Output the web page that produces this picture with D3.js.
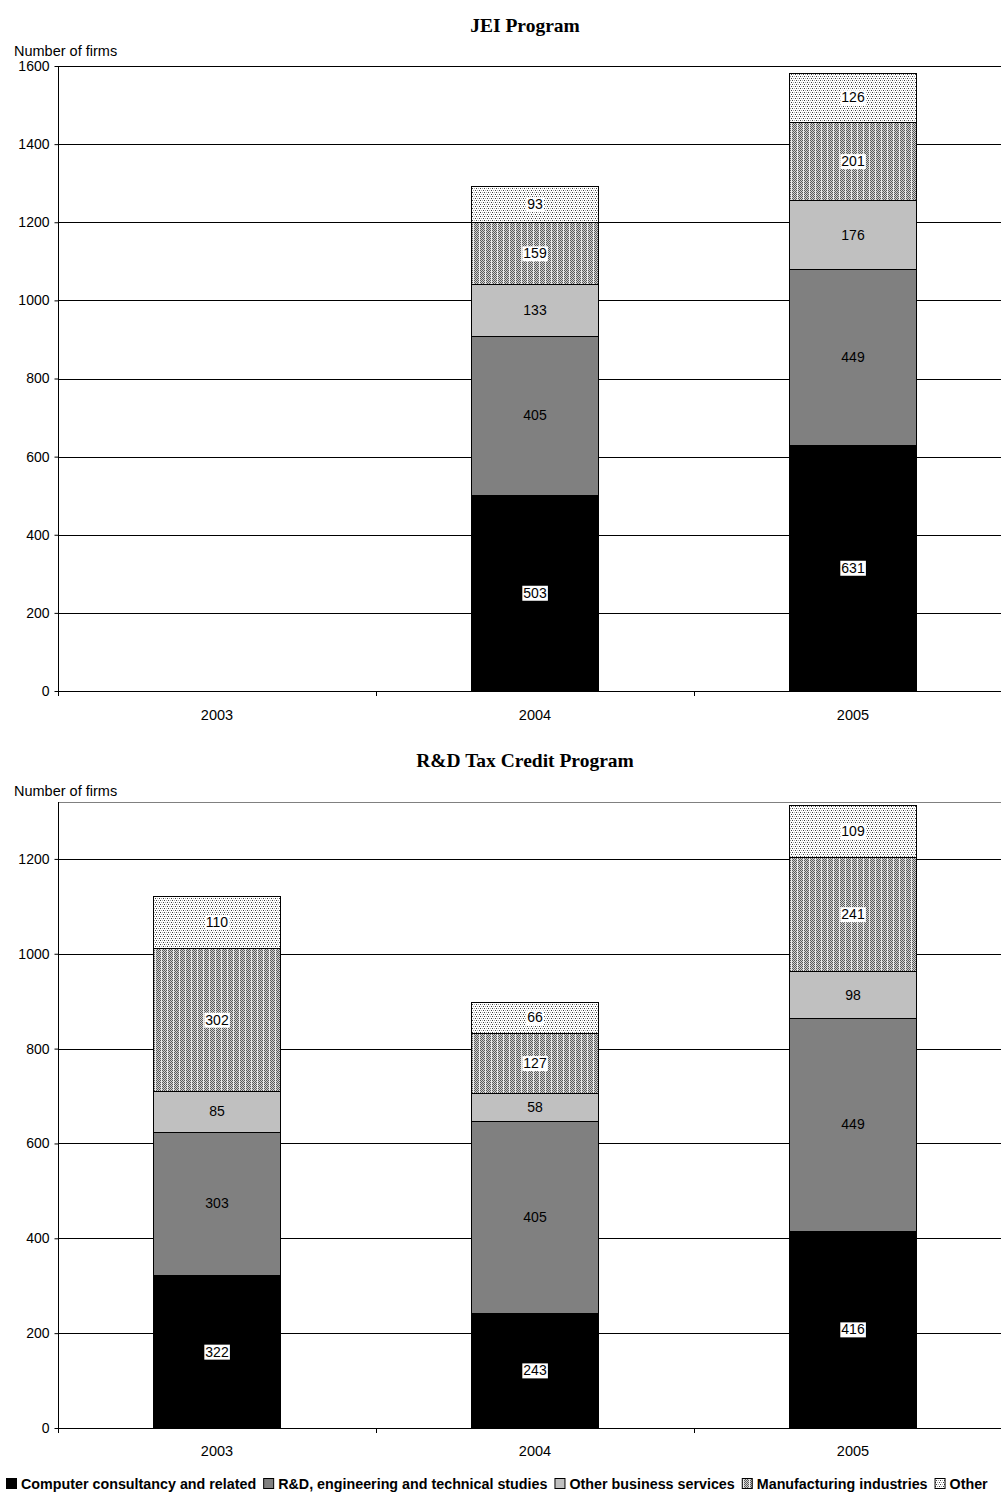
<!DOCTYPE html>
<html>
<head>
<meta charset="utf-8">
<script src="https://cdn.jsdelivr.net/npm/d3@7"></script>
<style>
  html, body { margin: 0; padding: 0; background: #fff; overflow: hidden; }
  svg { display: block; font-family: "Liberation Sans", Arial, sans-serif; }
</style>
</head>
<body>
<script>
// Years on the horizontal axis
const years = ["2003", "2004", "2005"];

// Sector keys and legend labels
const sectorKeys = ["computer", "rd", "business", "manufacturing", "other"];
const sectorNames = [
  "Computer consultancy and related",
  "R&D, engineering and technical studies",
  "Other business services",
  "Manufacturing industries",
  "Other"
];

// JEI Program: number of firms per sector (no firms in 2003)
const jeiComputer      = [null, 503, 631];
const jeiRD            = [null, 405, 449];
const jeiBusiness      = [null, 133, 176];
const jeiManufacturing = [null, 159, 201];
const jeiOther         = [null, 93, 126];

// R&D Tax Credit Program: number of firms per sector
const cirComputer      = [322, 243, 416];
const cirRD            = [303, 405, 449];
const cirBusiness      = [85, 58, 98];
const cirManufacturing = [302, 127, 241];
const cirOther         = [110, 66, 109];

// Axis tick values
const jeiTicks = [0, 200, 400, 600, 800, 1000, 1200, 1400, 1600];
const cirTicks = [0, 200, 400, 600, 800, 1000, 1200];

const W = 1001, H = 1492;
const svg = d3.select("body").append("svg").attr("width", W).attr("height", H);
const defs = svg.append("defs");

function px(pat, x, y, c) {
  pat.append("rect").attr("x", x).attr("y", y).attr("width", 1).attr("height", 1)
    .attr("fill", c).attr("shape-rendering", "crispEdges");
}

// Sparse stipple for "Other"
const pOther = defs.append("pattern").attr("id", "pat-other")
  .attr("patternUnits", "userSpaceOnUse").attr("width", 4).attr("height", 4);
pOther.append("rect").attr("width", 4).attr("height", 4).attr("fill", "#ffffff");
px(pOther, 0, 0, "#404040"); px(pOther, 2, 0, "#a8a8a8");
px(pOther, 1, 2, "#a8a8a8"); px(pOther, 3, 2, "#404040");

// Dense checker stipple with light columns for "Manufacturing industries"
const pMan = defs.append("pattern").attr("id", "pat-man")
  .attr("patternUnits", "userSpaceOnUse").attr("width", 6).attr("height", 2);
pMan.append("rect").attr("width", 6).attr("height", 2).attr("fill", "#d0d0d0");
for (let cx = 0; cx < 5; cx++) {
  for (let cy = 0; cy < 2; cy++) {
    if ((cx + cy) % 2 === 0) px(pMan, cx, cy, "#5a5a5a");
  }
}
px(pMan, 5, 0, "#f0f0f0"); px(pMan, 5, 1, "#e4e4e4");

const fills = {
  computer: "#000000",
  rd: "#808080",
  business: "#c0c0c0",
  manufacturing: "url(#pat-man)",
  other: "url(#pat-other)"
};
// Labels sit on a white box on black and patterned segments
const boxed = { computer: true, rd: false, business: false, manufacturing: true, other: true };

const plotLeft = 58, plotRight = 1012;

function buildRows(cols) {
  return years.map((yr, i) => {
    const row = { year: yr };
    sectorKeys.forEach((k, j) => { row[k] = cols[j][i] == null ? 0 : cols[j][i]; });
    return row;
  });
}

function drawChart(opts) {
  const { title, titleY, top, bottom, cols, ticks, yFloorMax, yLabelY, xLabelY } = opts;
  const rows = buildRows(cols);
  const stacked = d3.stack().keys(sectorKeys)(rows);
  const maxTotal = d3.max(rows, r => d3.sum(sectorKeys, k => r[k]));
  const yMax = Math.max(yFloorMax, Math.ceil(maxTotal / 20) * 20);

  const y = d3.scaleLinear().domain([0, yMax]).range([bottom, top]);
  const x = d3.scaleBand().domain(years).range([plotLeft, plotRight])
    .paddingInner(0.6).paddingOuter(0.3);
  const xCat = d3.scaleBand().domain(years).range([plotLeft, plotRight]);

  const g = svg.append("g");

  // Title
  g.append("text").attr("x", 525).attr("y", titleY).attr("text-anchor", "middle")
    .style("font-family", "'Liberation Serif', 'Times New Roman', serif")
    .style("font-weight", "bold").style("font-size", "19.5px").text(title);

  // Plot frame (top edge)
  g.append("line").attr("x1", plotLeft).attr("x2", plotRight)
    .attr("y1", top + 0.5).attr("y2", top + 0.5).attr("stroke", "#808080");

  // Gridlines
  g.append("g").selectAll("line").data(ticks.filter(t => t > 0)).join("line")
    .attr("x1", plotLeft).attr("x2", plotRight)
    .attr("y1", d => Math.round(y(d)) + 0.5).attr("y2", d => Math.round(y(d)) + 0.5)
    .attr("stroke", "#000").attr("stroke-width", 1);

  // Stacked bars
  const layers = g.append("g").selectAll("g").data(stacked).join("g")
    .attr("fill", d => fills[d.key]);
  layers.selectAll("rect").data(d => d.map(s => ({ s, key: d.key })).filter(e => e.s[1] - e.s[0] > 0))
    .join("rect")
    .attr("x", e => Math.round(x(e.s.data.year)) + 0.5)
    .attr("width", Math.round(x.bandwidth()))
    .attr("y", e => Math.round(y(e.s[1])) + 0.5)
    .attr("height", e => Math.round(y(e.s[0])) - Math.round(y(e.s[1])))
    .attr("stroke", "#000").attr("stroke-width", 1);

  // Value labels
  const labels = g.append("g");
  stacked.forEach(layer => {
    layer.forEach(s => {
      const v = s[1] - s[0];
      if (v <= 0) return;
      const cx = x(s.data.year) + x.bandwidth() / 2;
      const cy = (y(s[0]) + y(s[1])) / 2;
      const lg = labels.append("g");
      const t = lg.append("text").attr("x", cx).attr("y", cy + 5)
        .attr("text-anchor", "middle").style("font-size", "14px").attr("fill", "#000")
        .text(v);
      if (boxed[layer.key]) {
        const bb = t.node().getBBox();
        lg.insert("rect", "text").attr("x", bb.x - 1).attr("y", bb.y + 1)
          .attr("width", bb.width + 2).attr("height", bb.height - 1).attr("fill", "#fff");
      }
    });
  });

  // Y axis
  const yAxis = g.append("g").attr("transform", `translate(${plotLeft + 0.5},0)`)
    .call(d3.axisLeft(y).tickValues(ticks).tickSize(4).tickPadding(5).tickFormat(d3.format("d")));
  yAxis.select(".domain").remove();
  yAxis.selectAll(".tick line").attr("stroke", "#000");
  yAxis.selectAll(".tick text").style("font-size", "14px")
    .style("font-family", "'Liberation Sans', Arial, sans-serif").attr("fill", "#000");
  g.append("line").attr("x1", plotLeft + 0.5).attr("x2", plotLeft + 0.5)
    .attr("y1", top).attr("y2", bottom + 0.5).attr("stroke", "#000");

  // X axis baseline, boundary ticks and year labels
  g.append("line").attr("x1", plotLeft).attr("x2", plotRight)
    .attr("y1", bottom + 0.5).attr("y2", bottom + 0.5).attr("stroke", "#000");
  const bounds = years.map(d => xCat(d)).concat([plotRight]);
  g.append("g").selectAll("line").data(bounds).join("line")
    .attr("x1", d => Math.round(d) + 0.5).attr("x2", d => Math.round(d) + 0.5)
    .attr("y1", bottom).attr("y2", bottom + 5).attr("stroke", "#000");
  g.append("g").selectAll("text").data(years).join("text")
    .attr("x", d => xCat(d) + xCat.bandwidth() / 2).attr("y", xLabelY)
    .attr("text-anchor", "middle").style("font-size", "14.5px").text(d => d);

  // Y axis title
  g.append("text").attr("x", 14).attr("y", yLabelY).style("font-size", "14.5px").text("Number of firms");
}

drawChart({
  title: "JEI Program", titleY: 32, top: 66, bottom: 691,
  cols: [jeiComputer, jeiRD, jeiBusiness, jeiManufacturing, jeiOther],
  ticks: jeiTicks, yFloorMax: 1600, yLabelY: 56, xLabelY: 720
});

drawChart({
  title: "R&D Tax Credit Program", titleY: 767, top: 802, bottom: 1428,
  cols: [cirComputer, cirRD, cirBusiness, cirManufacturing, cirOther],
  ticks: cirTicks, yFloorMax: 1300, yLabelY: 796, xLabelY: 1456
});

// Legend
const legend = svg.append("g").style("font-size", "14.3px").style("font-weight", "bold");
let lx = 6;
sectorKeys.forEach((k, i) => {
  legend.append("rect").attr("x", lx + 0.5).attr("y", 1478.5).attr("width", 10).attr("height", 10)
    .attr("fill", fills[k]).attr("stroke", "#000").attr("stroke-width", 1);
  const t = legend.append("text").attr("x", lx + 15).attr("y", 1489).text(sectorNames[i]);
  lx += 15 + t.node().getComputedTextLength() + 7;
});
</script>
</body>
</html>
